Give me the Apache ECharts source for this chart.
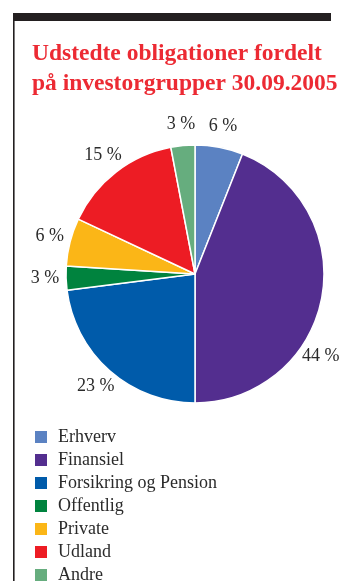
<!DOCTYPE html>
<html>
<head>
<meta charset="utf-8">
<script src="https://cdn.jsdelivr.net/npm/echarts@6/dist/echarts.min.js"></script>
<style>
  html, body { margin: 0; padding: 0; background: #ffffff; }
  #chart { width: 345px; height: 581px; }
</style>
</head>
<body>
<div id="chart"></div>
<script>
// Investor groups and their share (%) of issued bonds
const categories = ['Erhverv', 'Finansiel', 'Forsikring og Pension', 'Offentlig', 'Private', 'Udland', 'Andre'];
const shares = [6, 44, 23, 3, 6, 15, 3];
const sliceColors = ['#5b82c2', '#532e8f', '#005baa', '#00833e', '#fbb617', '#ed1c24', '#66ad7e'];

const titleText = 'Udstedte obligationer fordelt\npå investorgrupper 30.09.2005';

const serif = '"Liberation Serif", "DejaVu Serif", serif';
const textColor = '#2b2b2b';
const pieCenter = [195, 274];
const pieRadius = 129;
const labelRadius = 150;

const total = shares.reduce((a, b) => a + b, 0);
const startShares = shares.map((v, i) => shares.slice(0, i).reduce((a, b) => a + b, 0));

const chart = echarts.init(document.getElementById('chart'), null, { renderer: 'canvas' });

chart.setOption({
  backgroundColor: '#ffffff',
  animation: false,
  color: sliceColors,
  title: {
    text: titleText,
    left: 32,
    top: 39,
    padding: 0,
    textStyle: {
      fontFamily: serif,
      fontWeight: 'bold',
      fontSize: 23.5,
      lineHeight: 30,
      color: '#ec2a33'
    }
  },
  legend: {
    orient: 'vertical',
    left: 33,
    top: 428,
    height: 300,
    padding: 0,
    itemWidth: 14,
    itemHeight: 14,
    itemGap: 5,
    icon: 'rect',
    data: categories,
    textStyle: {
      fontFamily: serif,
      fontSize: 18,
      color: textColor,
      padding: [0, 0, 0, 5]
    }
  },
  graphic: [
    { type: 'rect', shape: { x: 13, y: 13, width: 318, height: 8 }, style: { fill: '#231f20' } },
    { type: 'rect', shape: { x: 13, y: 21, width: 1.6, height: 570 }, style: { fill: '#231f20' } }
  ],
  series: [{
    type: 'pie',
    center: pieCenter,
    radius: pieRadius,
    startAngle: 90,
    clockwise: true,
    avoidLabelOverlap: false,
    itemStyle: { borderColor: '#ffffff', borderWidth: 1.5 },
    label: {
      show: true,
      position: 'outside',
      formatter: '{c} %',
      fontFamily: serif,
      fontSize: 18,
      color: textColor
    },
    labelLine: { show: false },
    // Percent labels sit on a ring around the pie, centred on each slice's mid angle;
    // the large Finansiel label is set further down its slice.
    labelLayout: function (p) {
      const i = p.dataIndex;
      let frac = (startShares[i] + shares[i] / 2) / total;
      if (categories[i] === 'Finansiel') frac = 0.342;
      const a = frac * Math.PI * 2;
      return {
        x: pieCenter[0] + labelRadius * Math.sin(a),
        y: pieCenter[1] - labelRadius * Math.cos(a),
        align: 'center',
        verticalAlign: 'middle'
      };
    },
    emphasis: { disabled: true },
    data: categories.map((name, i) => ({ name: name, value: shares[i] }))
  }]
});
</script>
</body>
</html>
